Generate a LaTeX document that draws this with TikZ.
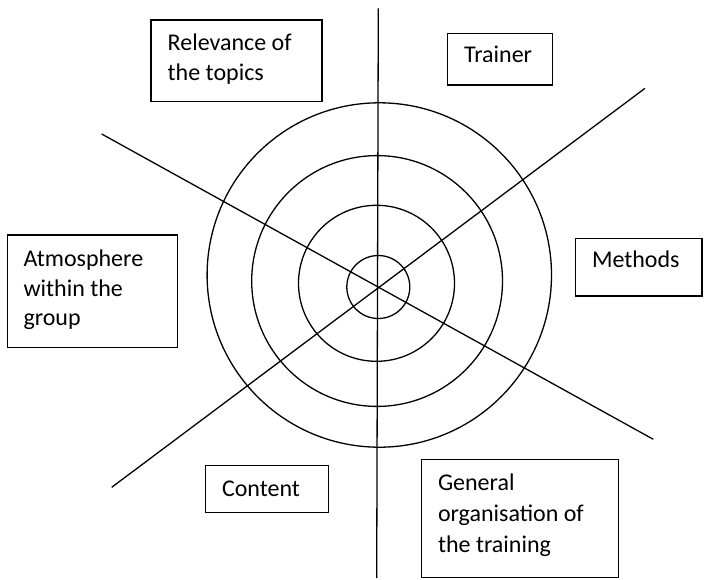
\documentclass[tikz,border=0pt]{standalone}
\usepackage{fontspec}
\setmainfont{Carlito}
\begin{document}
\begin{tikzpicture}[x=1pt,y=-1pt,
  ring/.style={line width=1.3pt},
  spoke/.style={line width=1.3pt},
  framebox/.style={draw, line width=1.3pt, inner sep=0pt, rectangle},
  label/.style={anchor=base west, inner sep=0pt, font=\fontsize{24}{29.5}\selectfont},
  widelabel/.style={label, font=\fontsize{24}{31}\selectfont}]
\useasboundingbox (0,0) rectangle (704,579);

% spokes
\coordinate (vtop) at (378.3,8.3);
\coordinate (vbot) at (376.7,578);
\coordinate (dnw) at (101.7,134);
\coordinate (dse) at (653.3,439.3);
\coordinate (dsw) at (111.7,487.3);
\coordinate (dne) at (645,88.3);
\draw[spoke] (vtop) -- (vbot);
\draw[spoke] (dnw) -- (dse);
\draw[spoke] (dsw) -- (dne);

% rings
\draw[ring] (378.3,287) circle[radius=31.5pt];
\draw[ring] (376.5,283.3) circle[radius=78pt];
\draw[ring] (377.1,281) circle[radius=125.4pt];
\draw[ring] (379.3,275) circle[radius=172.2pt];

% boxes
\node[framebox, minimum width=171pt, minimum height=81.3pt] (relevance) at (236.5,60.7) {};
\node[framebox, minimum width=104.6pt, minimum height=51.7pt] (trainer) at (500,59.2) {};
\node[framebox, minimum width=126.3pt, minimum height=57.3pt] (methods) at (638.9,267.3) {};
\node[framebox, minimum width=170.4pt, minimum height=112.7pt] (atmosphere) at (92.5,291.3) {};
\node[framebox, minimum width=123pt, minimum height=46.6pt] (content) at (267.2,489) {};
\node[framebox, minimum width=197.6pt, minimum height=118.4pt] (general) at (520,518.5) {};

% texts
\node[label] (relevanceText) at (167.5,50.7) {\vtop{\hbox{Relevance of}\hbox{the topics}}};
\node[label] (trainerText) at (463.9,62.7) {Trainer};
\node[label] (methodsText) at (591.8,267.7) {Methods};
\node[label] (atmosphereText) at (23.3,266.7) {\vtop{\hbox{Atmosphere}\hbox{within the}\hbox{group}}};
\node[label] (contentText) at (221.8,496) {Content};
\node[widelabel] (generalText) at (437.8,490.7) {\vtop{\hbox{General}\hbox{organisation of}\hbox{the training}}};
\end{tikzpicture}
\end{document}
